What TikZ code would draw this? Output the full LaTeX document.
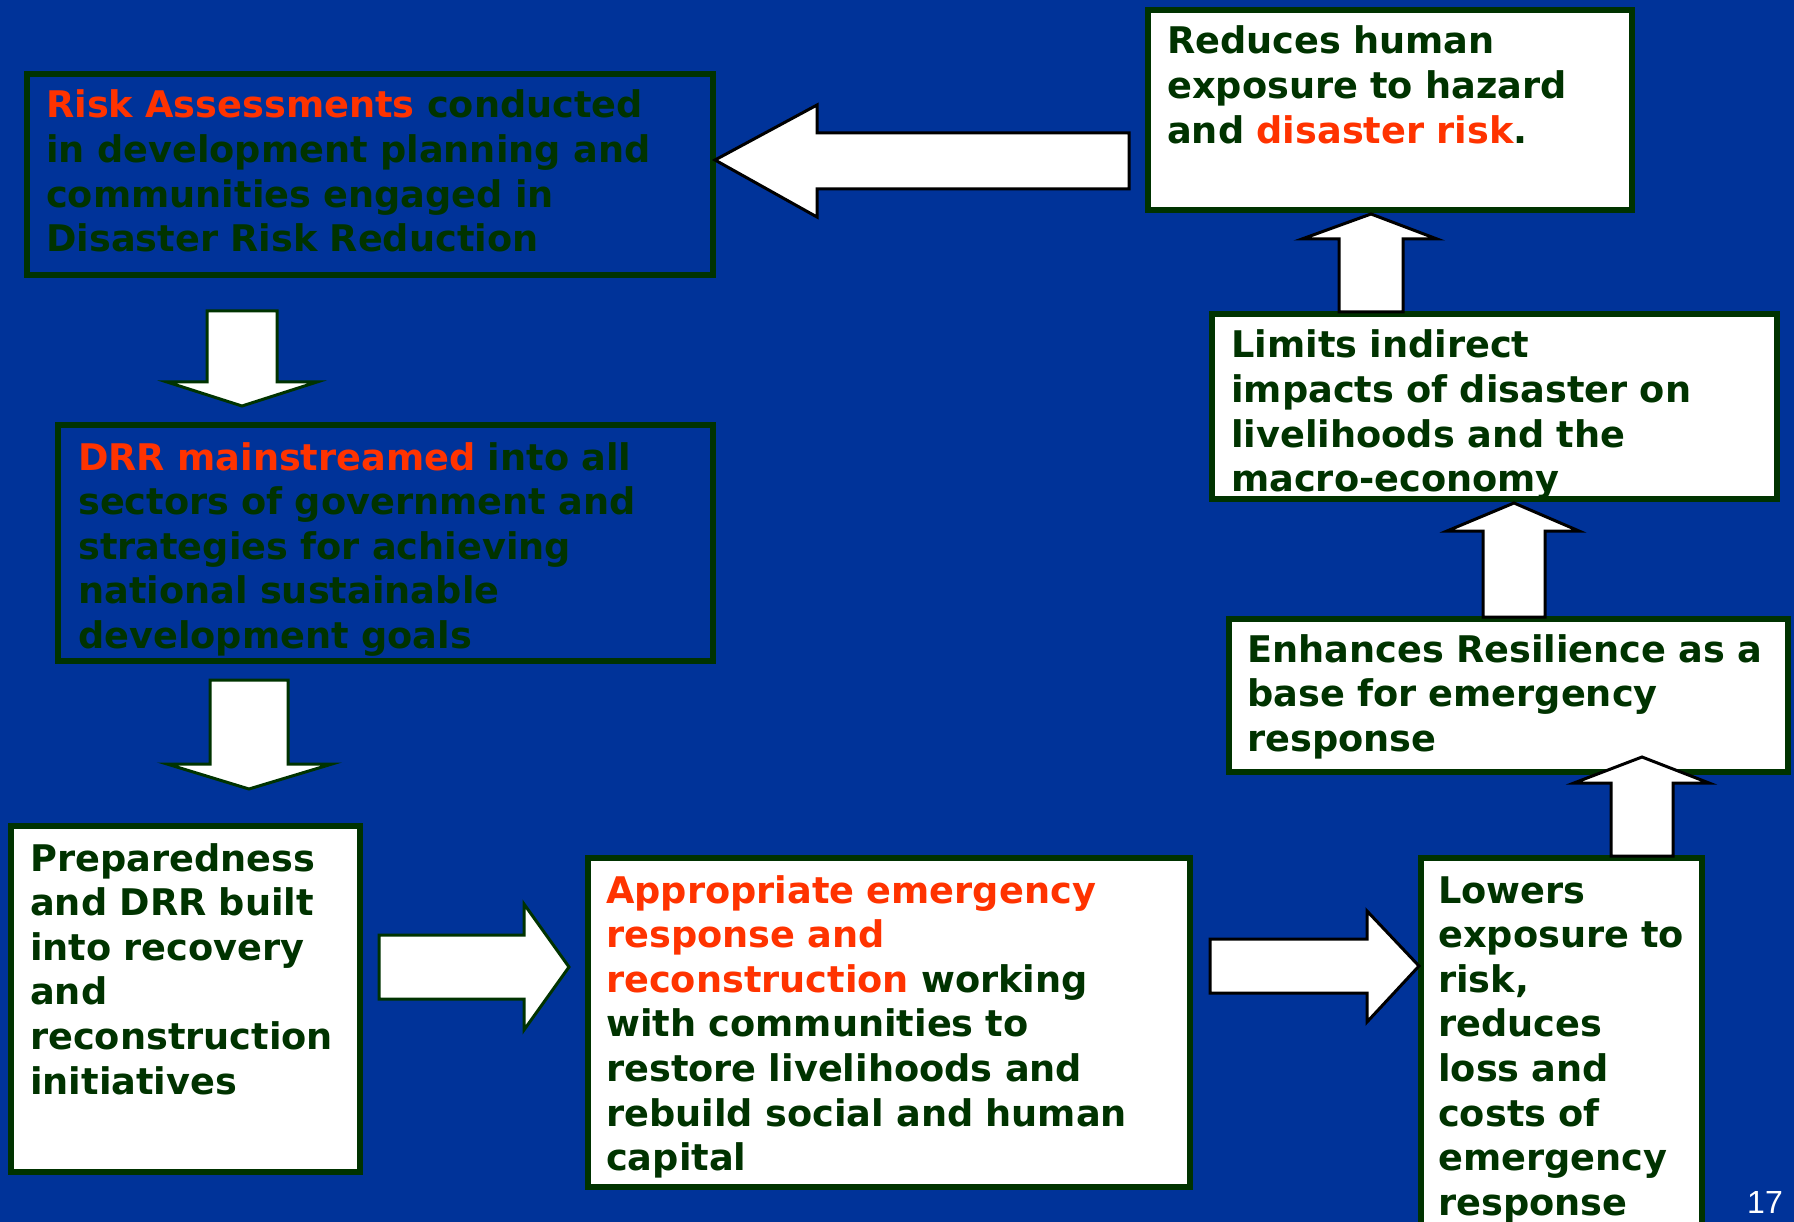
\documentclass[tikz,border=0pt]{standalone}
\usepackage{fontspec}
\setmainfont{DejaVu Sans}
\newfontfamily\numfont{Liberation Sans}
\definecolor{slidebg}{HTML}{003399}
\definecolor{leafgreen}{HTML}{003300}
\definecolor{alertred}{HTML}{FF3300}
\newcommand\redtxt[1]{\textcolor{alertred}{#1}}

\begin{document}
\begin{tikzpicture}[x=1pt,y=-1pt,
  box/.style={draw=leafgreen, line width=6pt, rectangle, anchor=north west,
              outer sep=0pt, inner sep=0pt},
  whitebox/.style={box, fill=white},
  bluebox/.style={box, fill=slidebg},
  txt/.style={anchor=base west, inner sep=0pt, text width=800pt, align=left,
              text=leafgreen, font=\fontsize{36.7}{44.6}\selectfont\bfseries},
  blockarrow/.style={fill=white, line width=3pt, line join=miter},
]
% slide background
\fill[slidebg] (0,0) rectangle (1794,1222);
\useasboundingbox (0,0) rectangle (1794,1222);

% boxes
\node[bluebox,  minimum width=686pt, minimum height=201pt] (A) at (27,74) {};
\node[bluebox,  minimum width=655pt, minimum height=236pt] (B) at (58,425) {};
\node[whitebox, minimum width=349pt, minimum height=346pt] (C) at (11,826) {};
\node[whitebox, minimum width=602pt, minimum height=329pt] (D) at (588,858) {};
\node[whitebox, minimum width=281pt, minimum height=382pt] (E) at (1421,858) {};
\node[whitebox, minimum width=559pt, minimum height=153pt] (F) at (1229,619) {};
\node[whitebox, minimum width=565pt, minimum height=185pt] (G) at (1212,314) {};
\node[whitebox, minimum width=484pt, minimum height=200pt] (H) at (1148,10) {};

% box texts
\node[txt] (tA) at (46,118) {\redtxt{Risk Assessments} conducted\\
  in development planning and\\ communities engaged in\\ Disaster Risk Reduction};
\node[txt] (tB) at (78,470) {\redtxt{DRR mainstreamed} into all\\
  sectors of government and\\ strategies for achieving\\ national sustainable\\
  development goals};
\node[txt] (tC) at (30,871) {Preparedness\\ and DRR built\\ into recovery\\ and\\
  reconstruction\\ initiatives};
\node[txt] (tD) at (606,903) {\redtxt{Appropriate emergency}\\ \redtxt{response and}\\
  \redtxt{reconstruction} working\\ with communities to\\ restore livelihoods and\\
  rebuild social and human\\ capital};
\node[txt] (tE) at (1438,903) {Lowers\\ exposure to\\ risk,\\ reduces\\ loss and\\
  costs of\\ emergency\\ response};
\node[txt] (tF) at (1247,662) {Enhances Resilience as a\\ base for emergency\\ response};
\node[txt] (tG) at (1231,358) {Limits indirect\\ impacts of disaster on\\
  livelihoods and the\\ macro-economy};
\node[txt] (tH) at (1167,54) {Reduces human\\ exposure to hazard\\
  and \redtxt{disaster risk}.};

% block arrows
\draw[blockarrow, draw=black] (715,160) -- (817,105) -- (817,133) -- (1129,133)
  -- (1129,189) -- (817,189) -- (817,217) -- cycle;
\draw[blockarrow, draw=leafgreen] (207,311) -- (277,311) -- (277,382) -- (317,382)
  -- (242,406) -- (167,382) -- (207,382) -- cycle;
\draw[blockarrow, draw=leafgreen] (210,680) -- (288,680) -- (288,764) -- (332,764)
  -- (249,789) -- (167,764) -- (210,764) -- cycle;
\draw[blockarrow, draw=leafgreen] (379,935) -- (524,935) -- (524,904) -- (569,967)
  -- (524,1030) -- (524,999) -- (379,999) -- cycle;
\draw[blockarrow, draw=black] (1210,939) -- (1367,939) -- (1367,911) -- (1419,966)
  -- (1367,1022) -- (1367,993) -- (1210,993) -- cycle;
\draw[blockarrow, draw=black] (1611,856) -- (1611,783) -- (1574,783) -- (1642,757)
  -- (1709,783) -- (1673,783) -- (1673,856) -- cycle;
\draw[blockarrow, draw=black] (1483,617) -- (1483,531) -- (1447,531) -- (1514,503)
  -- (1579,531) -- (1545,531) -- (1545,617) -- cycle;
\draw[blockarrow, draw=black] (1339,312) -- (1339,239) -- (1302,239) -- (1371,214)
  -- (1437,239) -- (1403,239) -- (1403,312) -- cycle;

% slide number
\node[anchor=base east, inner sep=0pt, text=white,
      font=\numfont\fontsize{32}{38}\selectfont] (pg) at (1783,1213) {17};
\end{tikzpicture}
\end{document}
